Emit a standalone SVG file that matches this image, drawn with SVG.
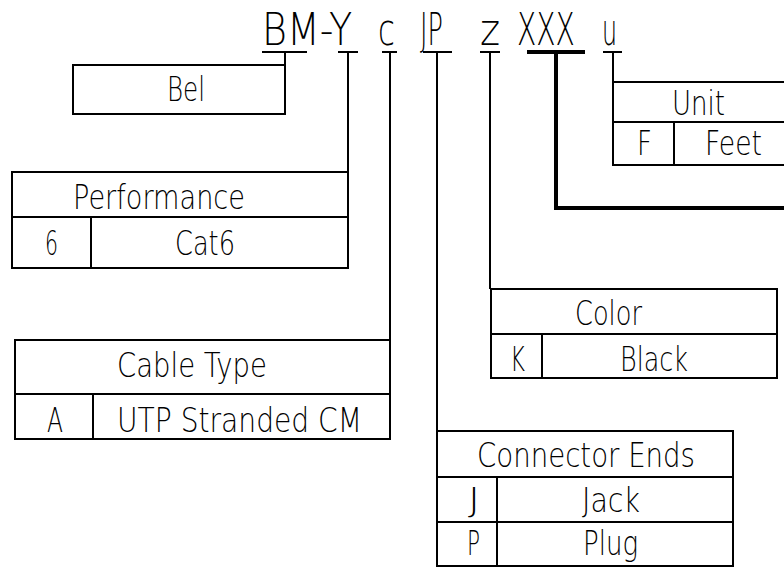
<svg xmlns="http://www.w3.org/2000/svg" width="784" height="571" viewBox="0 0 784 571">
<style>
text{font-family:"DejaVu Sans","Liberation Sans",sans-serif;font-weight:200;font-size:33px;fill:#000}
.top{font-size:44px}
.b{fill:none;stroke:#000;stroke-width:2}
.c{fill:none;stroke:#000;stroke-width:2}
.thick{fill:none;stroke:#000;stroke-width:4}
</style>
<rect width="784" height="571" fill="#fff"/>
<g id="code">
<text class="top" transform="translate(262 45) scale(0.865 1)">BM-Y</text>
<text class="top" transform="translate(378 45) scale(0.70 1)">c</text>
<text class="top" transform="translate(420 45) scale(0.58 1)">JP</text>
<text class="top" transform="translate(480 45) scale(0.87 1)">z</text>
<text class="top" transform="translate(517 45) scale(0.64 1)">XXX</text>
<text class="top" transform="translate(602 45) scale(0.54 1)">u</text>
</g>
<g id="connectors">
<path class="c" d="M262 52H307M338 52H358M382 52H397M423 52H452M480 52H500M603 52H622"/>
<path class="thick" d="M527 52H585"/>
<path class="c" d="M285 52V65M348 52V172M390 52V340M437 52V431M490 52V289M613 52V82"/>
<path class="thick" d="M556 52V208H790"/>
</g>
<g id="bel">
<rect class="b" x="73" y="65" width="212" height="49"/>
<text x="167" y="101" textLength="38" lengthAdjust="spacingAndGlyphs">Bel</text>
</g>
<g id="performance">
<rect class="b" x="12" y="172" width="336" height="96"/>
<path class="b" d="M12 217H348M91 217V268"/>
<text x="73" y="209" textLength="172" lengthAdjust="spacingAndGlyphs">Performance</text>
<text x="45" y="255" textLength="13" lengthAdjust="spacingAndGlyphs">6</text>
<text x="175" y="255" textLength="60" lengthAdjust="spacingAndGlyphs">Cat6</text>
</g>
<g id="cable-type">
<rect class="b" x="15" y="340" width="375" height="99"/>
<path class="b" d="M15 394H390M93 394V439"/>
<text x="117" y="377" textLength="150" lengthAdjust="spacingAndGlyphs">Cable Type</text>
<text x="47" y="432" textLength="16" lengthAdjust="spacingAndGlyphs">A</text>
<text x="117" y="432" textLength="245" lengthAdjust="spacingAndGlyphs">UTP Stranded CM</text>
</g>
<g id="color">
<rect class="b" x="491" y="289" width="286" height="89"/>
<path class="b" d="M491 334H777M542 334V378"/>
<text x="575" y="325" textLength="67" lengthAdjust="spacingAndGlyphs">Color</text>
<text x="510" y="371" textLength="15" lengthAdjust="spacingAndGlyphs">K</text>
<text x="620" y="371" textLength="68" lengthAdjust="spacingAndGlyphs">Black</text>
</g>
<g id="connector-ends">
<rect class="b" x="437" y="431" width="296" height="135"/>
<path class="b" d="M437 477H733M437 522H733M497 477V566"/>
<text x="477" y="467" textLength="218" lengthAdjust="spacingAndGlyphs">Connector Ends</text>
<text x="468" y="512" textLength="12" lengthAdjust="spacingAndGlyphs">J</text>
<text x="582" y="512" textLength="58" lengthAdjust="spacingAndGlyphs">Jack</text>
<text x="467" y="555" textLength="13" lengthAdjust="spacingAndGlyphs">P</text>
<text x="583" y="555" textLength="55" lengthAdjust="spacingAndGlyphs">Plug</text>
</g>
<g id="unit">
<rect class="b" x="613" y="82" width="180" height="83"/>
<path class="b" d="M613 122H793M674 122V165"/>
<text x="672" y="115" textLength="53" lengthAdjust="spacingAndGlyphs">Unit</text>
<text x="637" y="155" textLength="15" lengthAdjust="spacingAndGlyphs">F</text>
<text x="705" y="155" textLength="57" lengthAdjust="spacingAndGlyphs">Feet</text>
</g>
</svg>
